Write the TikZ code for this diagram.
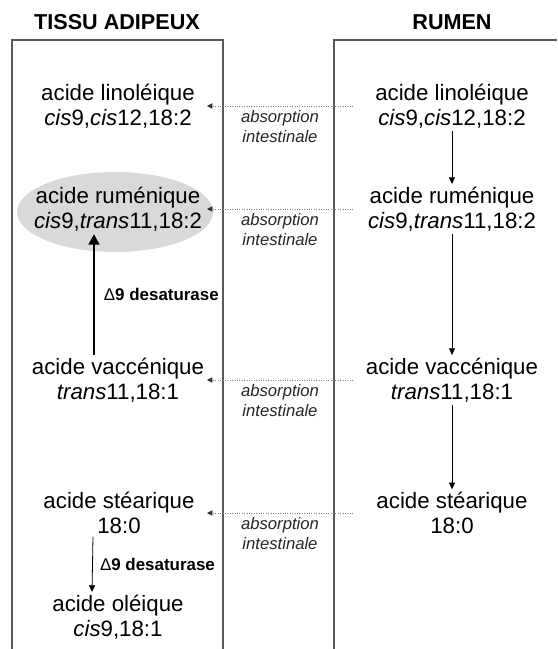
\documentclass[tikz,border=0pt]{standalone}
\usepackage{fontspec}
\setmainfont{Liberation Sans}
\usetikzlibrary{arrows.meta,calc,shapes.geometric}
\definecolor{wallgray}{HTML}{595959}
\definecolor{ellgray}{HTML}{D9D9D9}
\tikzset{
  acid/.style={align=center,inner sep=2pt,font=\fontsize{16.7}{18.75}\selectfont},
  boxtitle/.style={font=\fontsize{16.2}{19}\selectfont\bfseries},
  absorb/.style={-{Triangle[length=4pt,width=4pt,color=black!80]},gray,dash pattern=on 0.6pt off 1.2pt,line width=0.6pt},
  absorblabel/.style={align=center,text=black!85,font=\fontsize{12.5}{15}\selectfont\itshape},
  conv/.style={-{Triangle[length=5pt,width=4.5pt]},line width=0.6pt},
  desat/.style={font=\fontsize{12.7}{15}\selectfont\bfseries},
  wall/.style={wallgray,line width=1.1pt}
}
\begin{document}
\begin{tikzpicture}[x=0.75pt,y=-0.75pt]
\useasboundingbox (0,0) rectangle (557,649);
\node[boxtitle](tissu) at (117,22){TISSU ADIPEUX};
\node[boxtitle](rumen) at (452,22){RUMEN};
\draw[wall] (12,649) -- (12,40) -- (223,40) -- (223,649);
\draw[wall] (334,649) -- (334,40) -- (557,40);

\node[ellipse,fill=ellgray,minimum width=147pt,minimum height=60pt](rumEll) at (115,212){};

\node[acid](linL) at (118,106){acide linoléique\\\textit{cis}9,\textit{cis}12,18:2};
\node[acid](linR) at (452,106){acide linoléique\\\textit{cis}9,\textit{cis}12,18:2};
\node[acid](rumL) at (118,209){acide ruménique\\\textit{cis}9,\textit{trans}11,18:2};
\node[acid](rumR) at (452,209){acide ruménique\\\textit{cis}9,\textit{trans}11,18:2};
\node[acid](vacL) at (118,380){acide vaccénique\\\textit{trans}11,18:1};
\node[acid](vacR) at (452,380){acide vaccénique\\\textit{trans}11,18:1};
\node[acid](steL) at (119,513){acide stéarique\\18:0};
\node[acid](steR) at (452,513){acide stéarique\\18:0};
\node[acid](oleL) at (118,617){acide oléique\\\textit{cis}9,18:1};

\coordinate (gutR) at (353,0);
\coordinate (gutL) at (207,0);
\draw[absorb] (linR.west -| gutR) -- node[absorblabel,below]{absorption\\intestinale} (linL.east -| gutL);
\draw[absorb] (rumR.west -| gutR) -- node[absorblabel,below]{absorption\\intestinale} (rumL.east -| gutL);
\draw[absorb] (vacR.west -| gutR) -- node[absorblabel,below]{absorption\\intestinale} (vacL.east -| gutL);
\draw[absorb] (steR.west -| gutR) -- node[absorblabel,below]{absorption\\intestinale} (steL.east -| gutL);

\draw[conv] (linR) -- (rumR);
\draw[conv] (rumR) -- (vacR);
\draw[conv] (vacR) -- (steR);

\draw[-{Triangle[length=8pt,width=8pt]},line width=2.2pt] ($(vacL.north)+(-24,0)$) -- node[desat,right=3pt]{{\mdseries Δ}9 desaturase} ($(rumL.south)+(-24,0)$);
\draw[conv] ($(steL.south)+(-26,0)$) -- node[desat,right=2pt]{{\mdseries Δ}9 desaturase} ($(oleL.north)+(-26,0)$);
\end{tikzpicture}
\end{document}
